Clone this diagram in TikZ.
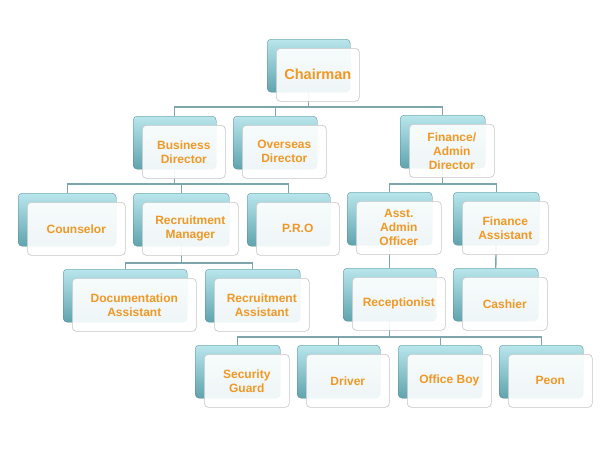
\documentclass[tikz,border=0pt]{standalone}
\usepackage{fontspec}
\setmainfont{Liberation Sans}
\usetikzlibrary{backgrounds,calc}
\definecolor{lnc}{RGB}{125,165,172}
\definecolor{bktop}{RGB}{185,230,236}
\definecolor{bkbot}{RGB}{96,164,174}
\definecolor{txt}{RGB}{240,152,36}
\tikzset{
 backbox/.style={rounded corners=4pt,top color=bktop,bottom color=bkbot,draw=bkbot!80!black,line width=0.3pt,inner sep=0pt,anchor=north west},
 frontbox/.style={rounded corners=4pt,fill=white,fill opacity=0.9,draw=gray!45,line width=0.6pt,inner sep=0pt,anchor=north west,text opacity=1,text=txt,font=\bfseries\fontsize{12}{14}\selectfont,align=center},
 conn/.style={draw=lnc,line width=1.3pt}
}
\newcommand\orgbox[6][]{%
 \node[backbox,minimum width=#4pt,minimum height=53pt] (#2) at (#3) {};
 \node[frontbox,minimum width=#4pt,minimum height=53pt,#1] (#2-f) at ($(#2.north west)+(9pt,-9pt)$) {#5#6};
}
\begin{document}
\begin{tikzpicture}[x=1pt,y=-1pt]
\useasboundingbox (0,0) rectangle (600,450);
\orgbox[font=\bfseries\fontsize{14.5}{16}\selectfont]{chair}{267,39}{83}{}{Chairman}
\orgbox{bus}{133,116}{83}{}{Business\\Director}
\orgbox{ovs}{233,116}{84}{}{Overseas\\Director}
\orgbox{fin}{400,115}{85}{}{Finance/\\Admin\\Director}
\orgbox{cou}{18,193}{98}{}{Counselor}
\orgbox{rm}{133,193}{96}{}{Recruitment\\Manager}
\orgbox{pro}{247,193}{83}{}{P.R.O}
\orgbox{aao}{347,192}{85}{}{Asst.\\Admin\\Officer}
\orgbox{fa}{453,192}{86}{}{Finance\\Assistant}
\orgbox{doc}{63,269}{124}{}{Documentation\\Assistant}
\orgbox{ra}{205,269}{95}{}{Recruitment\\Assistant}
\orgbox{rec}{343,268}{93}{}{Receptionist}
\orgbox{cas}{453,268}{85}{}{Cashier}
\orgbox{sg}{195,345}{85}{}{Security\\Guard}
\orgbox{drv}{297,345}{83}{}{Driver}
\orgbox{ob}{398,345}{84}{}{Office Boy}
\orgbox{peon}{499,345}{84}{}{Peon}
\coordinate (b1) at (0,107);
\coordinate (b2) at (0,184);
\coordinate (b3) at (0,263);
\coordinate (b4) at (0,337);
\begin{scope}[on background layer]
\fill[white] (0,0) rectangle (600,450);
\foreach \c in {bus,ovs,fin} \draw[conn] (chair.center) -- (chair.center |- b1) -| (\c.center);
\foreach \c in {cou,rm,pro} \draw[conn] (bus.center) -- (bus.center |- b2) -| (\c.center);
\foreach \c in {aao,fa} \draw[conn] (fin.center) -- (fin.center |- b2) -| (\c.center);
\foreach \c in {doc,ra} \draw[conn] (rm.center) -- (rm.center |- b3) -| (\c.center);
\draw[conn] (aao.center) -- (aao.center |- rec.center);
\draw[conn] (fa.center) -- (cas.center);
\foreach \c in {sg,drv,ob,peon} \draw[conn] (rec.center) -- (rec.center |- b4) -| (\c.center);
\end{scope}
\end{tikzpicture}
\end{document}
